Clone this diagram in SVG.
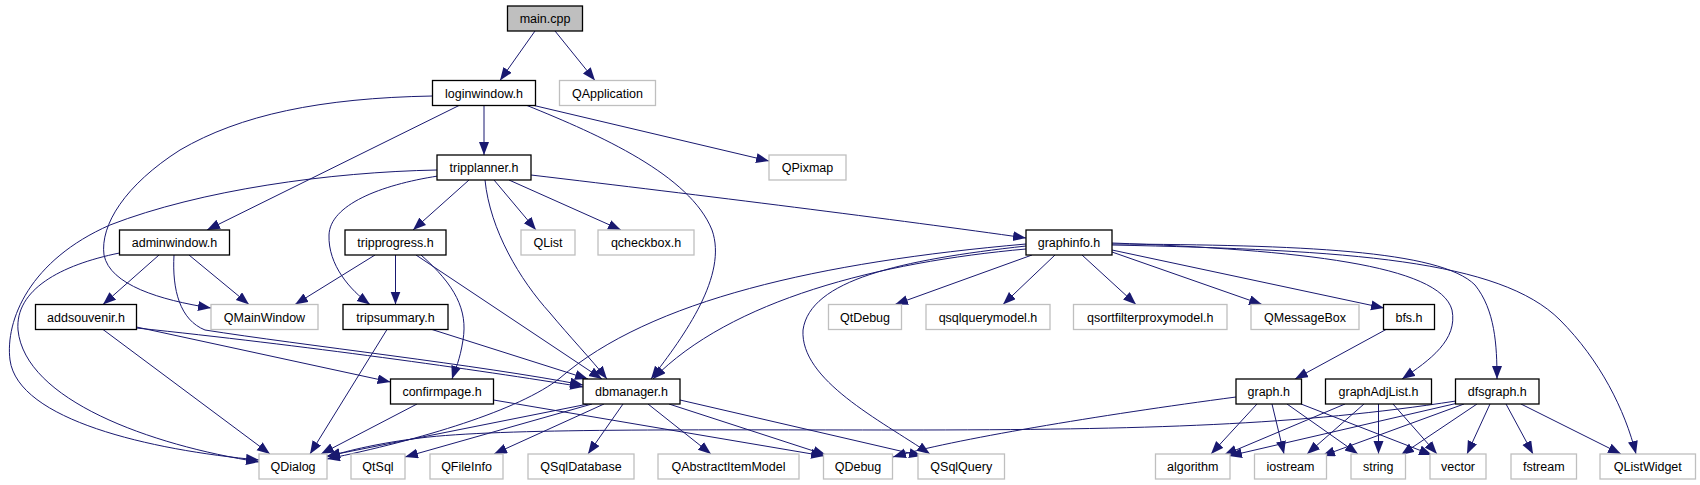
<svg xmlns="http://www.w3.org/2000/svg" width="1700" height="485" viewBox="0 0 1700 485">
<style>
.e{fill:none;stroke:#191970;stroke-width:1;marker-end:url(#arr)}
.n rect{fill:#fff;stroke:#000;stroke-width:1.3}
.x rect{fill:#fff;stroke:#bfbfbf;stroke-width:1.3}
.m rect{fill:#bfbfbf;stroke:#000;stroke-width:1.3}
text{font-family:"Liberation Sans",Arial,Helvetica,sans-serif;font-size:12.5px;fill:#000;text-anchor:middle}
</style>
<defs>
<marker id="arr" markerUnits="userSpaceOnUse" markerWidth="14" markerHeight="11" refX="13" refY="5" orient="auto"><path d="M0,0 L13,5 L0,10 z" fill="#191970"/></marker>
</defs>
<rect width="1700" height="485" fill="#fff"/>
<g id="edges">
<path class="e" d="M535,31 L500,80.5"/>
<path class="e" d="M555,31 L595,80.5"/>
<path class="e" d="M432.5,96 C320,98 240,115 180,150 C125,185 100,225 104,255 C110,285 160,300 211,308"/>
<path class="e" d="M459,105.5 L207,230"/>
<path class="e" d="M484,105.5 L484,155"/>
<path class="e" d="M527,105.5 C600,135 690,175 712,230 C728,275 685,335 651,379"/>
<path class="e" d="M534,105.5 L769,161"/>
<path class="e" d="M437,170 C330,172 200,190 110,225 C30,260 5,320 10,360 C18,420 150,450 259,460"/>
<path class="e" d="M438,176 C380,185 330,205 329,235 C328,265 350,290 370,304.5"/>
<path class="e" d="M469,180 L413,230"/>
<path class="e" d="M485,180 C490,230 520,280 550,313 C570,337 590,358 607,379"/>
<path class="e" d="M494,180 L536,230"/>
<path class="e" d="M509,180 L621,230"/>
<path class="e" d="M531,175 C700,195 900,220 1026,238"/>
<path class="e" d="M159,255 L103,304.5"/>
<path class="e" d="M189,255 L249,304.5"/>
<path class="e" d="M174,255 C172,290 180,320 205,330 C300,345 480,365 583,385"/>
<path class="e" d="M119.5,253 C60,265 15,290 18,330 C25,400 150,445 259,462"/>
<path class="e" d="M375,255 L295,304.5"/>
<path class="e" d="M395.5,255 L395.5,304.5"/>
<path class="e" d="M421,255 C455,285 468,310 463,340 C460,360 455,370 452,379"/>
<path class="e" d="M416,255 L602,379"/>
<path class="e" d="M103,329.5 L270,454"/>
<path class="e" d="M136.5,327 L390.5,382"/>
<path class="e" d="M136.5,328 C300,345 480,370 583,387"/>
<path class="e" d="M387,329.5 L310,454"/>
<path class="e" d="M432,329.5 L588,379"/>
<path class="e" d="M417,404 L321,454"/>
<path class="e" d="M493.5,400 L824,456"/>
<path class="e" d="M588,404 L327,456"/>
<path class="e" d="M592,404 L405,457"/>
<path class="e" d="M604,404 L494,454"/>
<path class="e" d="M623,404 L588,454"/>
<path class="e" d="M648,404 L711,454"/>
<path class="e" d="M669,404 L826,455"/>
<path class="e" d="M680,400 L922,456"/>
<path class="e" d="M1026,244 C820,262 650,300 560,378 C520,410 420,440 327,459"/>
<path class="e" d="M1026,249 C880,262 730,300 653,379"/>
<path class="e" d="M1026,246 C900,260 810,280 803,330 C800,380 880,420 930,454"/>
<path class="e" d="M1032,255 L895,304.5"/>
<path class="e" d="M1055,255 L1003,304.5"/>
<path class="e" d="M1082,255 L1136,304.5"/>
<path class="e" d="M1112,252 L1262,304.5"/>
<path class="e" d="M1112,250 L1384,308"/>
<path class="e" d="M1112,243 C1300,250 1440,265 1452,310 C1458,340 1430,360 1402,379"/>
<path class="e" d="M1112,244 C1300,245 1440,250 1475,285 C1495,310 1497,345 1497,379"/>
<path class="e" d="M1112,245 C1350,250 1500,260 1560,320 C1600,360 1625,410 1636,454"/>
<path class="e" d="M1386,329.5 L1295,379"/>
<path class="e" d="M1257,404 L1211,454"/>
<path class="e" d="M1272,404 L1284,454"/>
<path class="e" d="M1287,404 L1358,454"/>
<path class="e" d="M1301,404 L1432,455"/>
<path class="e" d="M1236,397 C1100,415 950,440 893,457"/>
<path class="e" d="M1345,404 L1224,455"/>
<path class="e" d="M1364,404 L1307,454"/>
<path class="e" d="M1378.5,404 L1378.5,454"/>
<path class="e" d="M1393,404 L1437,454"/>
<path class="e" d="M1458,403 L1229,456"/>
<path class="e" d="M1464,404 L1322,456"/>
<path class="e" d="M1477,404 L1401,455"/>
<path class="e" d="M1490,404 L1467,454"/>
<path class="e" d="M1506,404 L1533,454"/>
<path class="e" d="M1521,404 L1621,454"/>
<path class="e" d="M1456,401 C1300,425 1150,430 900,430 C700,430 500,428 420,438 C380,443 350,450 327,457"/>
</g>
<g id="n-main" class="m"><rect x="507.5" y="6" width="75" height="25"/><text x="545" y="23">main.cpp</text></g>
<g id="n-loginwindow" class="n"><rect x="432.5" y="80.5" width="103" height="25"/><text x="484" y="97.5">loginwindow.h</text></g>
<g id="n-QApplication" class="x"><rect x="559.5" y="80.5" width="96" height="25"/><text x="607.5" y="97.5">QApplication</text></g>
<g id="n-tripplanner" class="n"><rect x="437" y="155" width="94" height="25"/><text x="484" y="172">tripplanner.h</text></g>
<g id="n-QPixmap" class="x"><rect x="769" y="155" width="77" height="25"/><text x="807.5" y="172">QPixmap</text></g>
<g id="n-adminwindow" class="n"><rect x="119.5" y="230" width="110" height="25"/><text x="174.5" y="247">adminwindow.h</text></g>
<g id="n-tripprogress" class="n"><rect x="345" y="230" width="101" height="25"/><text x="395.5" y="247">tripprogress.h</text></g>
<g id="n-QList" class="x"><rect x="521" y="230" width="54" height="25"/><text x="548" y="247">QList</text></g>
<g id="n-qcheckbox" class="x"><rect x="598" y="230" width="96" height="25"/><text x="646" y="247">qcheckbox.h</text></g>
<g id="n-graphinfo" class="n"><rect x="1026" y="230" width="86" height="25"/><text x="1069" y="247">graphinfo.h</text></g>
<g id="n-addsouvenir" class="n"><rect x="35.5" y="304.5" width="101" height="25"/><text x="86" y="321.5">addsouvenir.h</text></g>
<g id="n-QMainWindow" class="x"><rect x="211" y="304.5" width="107" height="25"/><text x="264.5" y="321.5">QMainWindow</text></g>
<g id="n-tripsummary" class="n"><rect x="343" y="304.5" width="105" height="25"/><text x="395.5" y="321.5">tripsummary.h</text></g>
<g id="n-QtDebug" class="x"><rect x="828.5" y="304.5" width="73" height="25"/><text x="865" y="321.5">QtDebug</text></g>
<g id="n-qsqlquerymodel" class="x"><rect x="926" y="304.5" width="124" height="25"/><text x="988" y="321.5">qsqlquerymodel.h</text></g>
<g id="n-qsortfilterproxymodel" class="x"><rect x="1073.5" y="304.5" width="153.5" height="25"/><text x="1150.25" y="321.5">qsortfilterproxymodel.h</text></g>
<g id="n-QMessageBox" class="x"><rect x="1251" y="304.5" width="108" height="25"/><text x="1305" y="321.5">QMessageBox</text></g>
<g id="n-bfs" class="n"><rect x="1383.5" y="304.5" width="51" height="25"/><text x="1409" y="321.5">bfs.h</text></g>
<g id="n-confirmpage" class="n"><rect x="390.5" y="379" width="103" height="25"/><text x="442" y="396">confirmpage.h</text></g>
<g id="n-dbmanager" class="n"><rect x="583" y="379" width="97" height="25"/><text x="631.5" y="396">dbmanager.h</text></g>
<g id="n-graph" class="n"><rect x="1236" y="379" width="65.5" height="25"/><text x="1268.75" y="396">graph.h</text></g>
<g id="n-graphAdjList" class="n"><rect x="1325.5" y="379" width="106" height="25"/><text x="1378.5" y="396">graphAdjList.h</text></g>
<g id="n-dfsgraph" class="n"><rect x="1455.5" y="379" width="83.5" height="25"/><text x="1497.25" y="396">dfsgraph.h</text></g>
<g id="n-QDialog" class="x"><rect x="259" y="454" width="68" height="25"/><text x="293" y="471">QDialog</text></g>
<g id="n-QtSql" class="x"><rect x="351" y="454" width="54" height="25"/><text x="378" y="471">QtSql</text></g>
<g id="n-QFileInfo" class="x"><rect x="430" y="454" width="73" height="25"/><text x="466.5" y="471">QFileInfo</text></g>
<g id="n-QSqlDatabase" class="x"><rect x="528" y="454" width="106" height="25"/><text x="581" y="471">QSqlDatabase</text></g>
<g id="n-QAbstractItemModel" class="x"><rect x="658" y="454" width="141" height="25"/><text x="728.5" y="471">QAbstractItemModel</text></g>
<g id="n-QDebug" class="x"><rect x="823.5" y="454" width="69" height="25"/><text x="858" y="471">QDebug</text></g>
<g id="n-QSqlQuery" class="x"><rect x="918" y="454" width="86.5" height="25"/><text x="961.25" y="471">QSqlQuery</text></g>
<g id="n-algorithm" class="x"><rect x="1155.5" y="454" width="74.5" height="25"/><text x="1192.75" y="471">algorithm</text></g>
<g id="n-iostream" class="x"><rect x="1254.5" y="454" width="72" height="25"/><text x="1290.5" y="471">iostream</text></g>
<g id="n-string" class="x"><rect x="1351" y="454" width="54.5" height="25"/><text x="1378.25" y="471">string</text></g>
<g id="n-vector" class="x"><rect x="1430" y="454" width="56" height="25"/><text x="1458" y="471">vector</text></g>
<g id="n-fstream" class="x"><rect x="1511" y="454" width="65.5" height="25"/><text x="1543.75" y="471">fstream</text></g>
<g id="n-QListWidget" class="x"><rect x="1600" y="454" width="95.5" height="25"/><text x="1647.75" y="471">QListWidget</text></g>
</svg>
